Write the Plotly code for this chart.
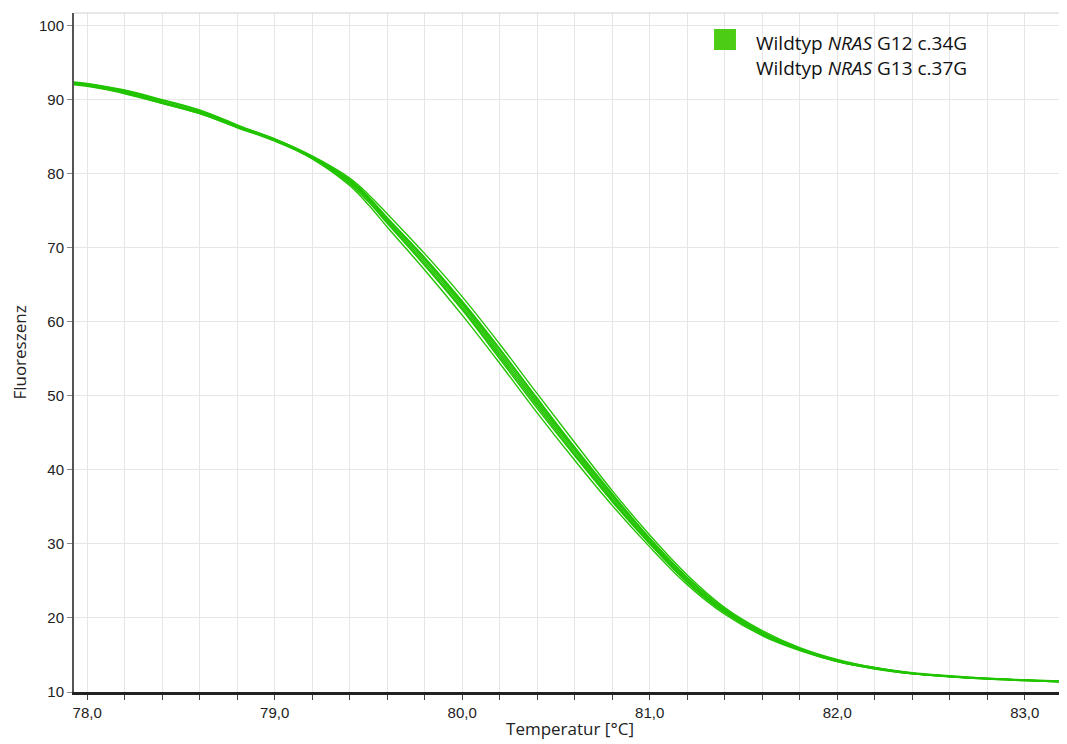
import plotly.graph_objects as go

# Temperature sample points (°C)
temperature = [77.93, 78.0, 78.2, 78.4, 78.6, 78.8, 79.0, 79.2, 79.4, 79.5, 79.6, 79.8, 80.0, 80.2, 80.4,
               80.6, 80.8, 81.0, 81.2, 81.4, 81.6, 81.8, 82.0, 82.2, 82.4, 82.6, 82.8, 83.0, 83.22]

# Fluorescence curves (replicate melt curves)
curve_1 = [92.2, 92.0, 91.0, 89.7, 88.3, 86.4, 84.6, 82.2, 78.9, 76.5, 73.7, 68.1, 62.1, 55.6, 48.9,
           42.4, 36.1, 30.3, 25.0, 20.9, 17.9, 15.8, 14.2, 13.2, 12.5, 12.1, 11.8, 11.6, 11.4]
curve_2 = [92.4, 92.2, 91.2, 89.9, 88.5, 86.5, 84.7, 82.4, 79.4, 77.2, 74.6, 69.2, 63.4, 57.0, 50.3,
           43.7, 37.2, 31.2, 25.8, 21.4, 18.3, 16.0, 14.4, 13.3, 12.6, 12.2, 11.85, 11.65, 11.45]
curve_3 = [92.0, 91.8, 90.9, 89.5, 88.1, 86.3, 84.5, 82.0, 78.4, 75.8, 72.8, 67.0, 60.9, 54.4, 47.7,
           41.3, 35.2, 29.6, 24.5, 20.5, 17.6, 15.6, 14.1, 13.1, 12.45, 12.05, 11.75, 11.55, 11.35]
curve_4 = [92.3, 92.1, 91.3, 90.0, 88.6, 86.6, 84.6, 82.3, 79.2, 76.9, 74.1, 68.6, 62.6, 56.2, 49.5,
           42.9, 36.6, 30.7, 25.4, 21.2, 18.1, 15.9, 14.3, 13.3, 12.55, 12.15, 11.85, 11.6, 11.4]
curve_5 = [92.1, 91.9, 90.8, 89.5, 88.1, 86.2, 84.4, 82.1, 78.6, 76.2, 73.3, 67.6, 61.6, 55.0, 48.3,
           41.9, 35.7, 30.0, 24.8, 20.7, 17.7, 15.7, 14.1, 13.15, 12.45, 12.05, 11.75, 11.55, 11.35]
curve_6 = [92.2, 92.0, 91.1, 89.9, 88.5, 86.4, 84.6, 82.2, 79.0, 76.7, 73.9, 68.4, 62.4, 55.9, 49.2,
           42.7, 36.4, 30.5, 25.2, 21.0, 18.0, 15.8, 14.2, 13.2, 12.5, 12.1, 11.8, 11.6, 11.4]
curve_7 = [92.3, 92.1, 91.1, 89.7, 88.3, 86.5, 84.7, 82.3, 79.1, 76.8, 74.0, 68.7, 62.8, 56.4, 49.7,
           43.1, 36.8, 30.8, 25.5, 21.2, 18.1, 15.9, 14.3, 13.25, 12.55, 12.15, 11.8, 11.6, 11.4]
curve_8 = [92.1, 91.9, 91.0, 89.6, 88.2, 86.3, 84.5, 82.1, 78.7, 76.3, 73.5, 67.8, 61.8, 55.3, 48.6,
           42.1, 35.9, 30.1, 24.9, 20.8, 17.8, 15.7, 14.15, 13.15, 12.5, 12.1, 11.8, 11.55, 11.35]

curves = [curve_1, curve_2, curve_3, curve_4, curve_5, curve_6, curve_7, curve_8]

legend_lines = ["Wildtyp <i>NRAS</i> G12 c.34G", "Wildtyp <i>NRAS</i> G13 c.37G"]

LINE_COLOR = "#22c400"
LEGEND_COLOR = "#4ccc14"

fig = go.Figure()
for c in curves:
    fig.add_trace(go.Scatter(
        x=temperature, y=c, mode="lines",
        line=dict(color=LINE_COLOR, width=1.4, shape="spline", smoothing=1.0),
        showlegend=False, hoverinfo="skip",
    ))

tick_font = dict(family="Liberation Sans, Arial, sans-serif", size=15, color="#222")
title_font = dict(family="Open Sans, sans-serif", size=17, color="#222")

# page body has an 8px default margin -> figure is 8px smaller and shifted
fig.update_layout(
    width=1059, height=736,
    margin=dict(l=66, r=1, t=5, b=52),
    paper_bgcolor="white", plot_bgcolor="white",
    separators=",.",
    showlegend=False,
    xaxis=dict(
        range=[77.93, 83.22],
        tick0=78, dtick=1, tickformat=".1f",
        ticks="outside", ticklen=5, tickcolor="#444", tickwidth=1,
        showgrid=True, gridcolor="#e6e6e6", gridwidth=1,
        minor=dict(dtick=0.2, tick0=78, showgrid=True, gridcolor="#e6e6e6",
                   ticks="outside", ticklen=5, tickcolor="#444"),
        showline=True, linecolor="#222", linewidth=2.5,
        zeroline=False, tickfont=tick_font,
        title=dict(text="Temperatur [°C]", font=title_font, standoff=4),
    ),
    yaxis=dict(
        range=[10, 101.7],
        tick0=10, dtick=10,
        ticks="outside", ticklen=5, tickcolor="#888",
        showgrid=True, gridcolor="#e6e6e6", gridwidth=1,
        showline=True, linecolor="#555", linewidth=2,
        zeroline=False, tickfont=tick_font,
        title=dict(text="Fluoreszenz", font=title_font, standoff=12),
    ),
)

# top frame line
fig.add_shape(type="line", xref="paper", yref="paper", x0=0, x1=1, y0=1, y1=1,
              line=dict(color="#d0d0d0", width=1))

# legend marker and text
fig.add_shape(type="rect", xref="paper", yref="paper",
              x0=0.6452, x1=0.6673, y0=0.9455, y1=0.9764,
              fillcolor=LEGEND_COLOR, line=dict(width=0))
fig.add_annotation(xref="paper", yref="paper", x=0.6855, y=0.938,
                   text="<br>".join(legend_lines), showarrow=False,
                   xanchor="left", yanchor="middle", align="left",
                   font=dict(family="Open Sans, sans-serif", size=19, color="#111"))

fig.write_html("out.html")
